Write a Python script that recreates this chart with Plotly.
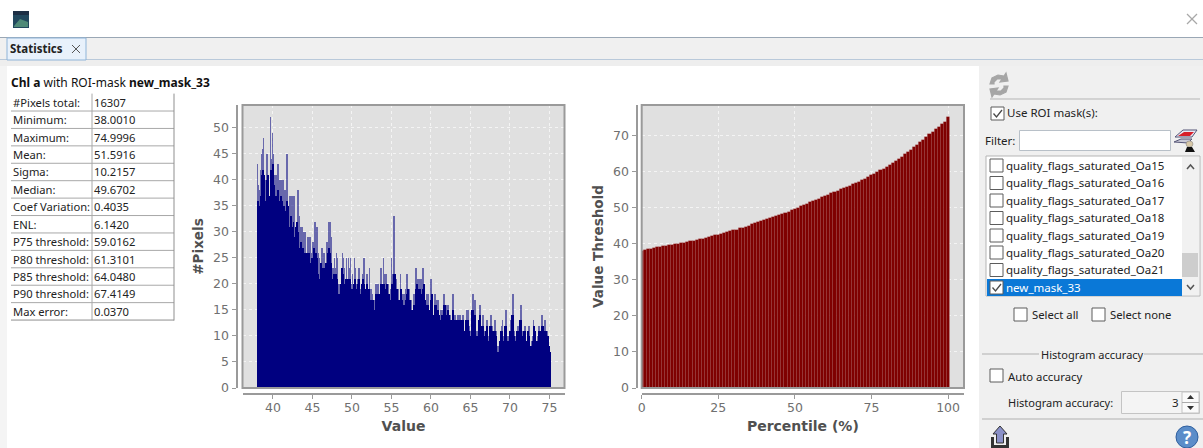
import plotly.graph_objects as go

W, H = 1203, 448

# ---------- data ----------
hist_peak = [
 43,39,38,42,45,46,48,40,40,45, 45,41,37,52,44,49,45,41,41,41,
 43,43,40,40,40,40,40,38,38,45, 45,35,37,37,37,37,37,37,31,31,
 38,38,33,31,31,31,30,30,30,26, 29,29,29,29,26,28,28,32,32,31,
 31,26,25,24,27,27,26,26,24,28, 28,32,32,32,29,23,23,25,23,26,
 25,20,20,19,22,26,25,23,19,25, 19,25,23,25,20,22,19,25,23,20,
 21,23,23,19,20,22,25,25,18,22, 22,19,23,19,19,18,20,17,17,20,
 20,20,20,18,23,23,19,25,22,22, 22,19,20,17,19,25,22,33,33,19,
 21,18,19,17,22,19,18,18,18,19, 22,22,19,19,17,17,15,18,18,23,
 23,21,21,21,21,21,23,23,19,14, 18,18,18,15,21,21,15,14,18,18,
 17,17,17,12,15,15,15,18,18,13, 16,16,16,14,14,12,18,18,14,14,
 13,14,14,14,14,13,14,14,11,12, 15,15,15,12,11,10,18,18,17,17,
 11,11,11,16,16,9,14,14,11,8, 13,13,10,9,14,14,12,9,13,13,
 11,8,8,8,10,12,13,10,10,15, 15,10,10,10,13,10,18,18,11,10,
 9,12,12,12,16,16,11,8,12,12, 9,10,12,12,8,9,9,10,13,12,
 10,8,10,12,12,9,14,14,10,13, 13,11,11,9,8]
hist_core = [
 36,35,34,37,41,42,41,36,36,40, 41,37,33,42,40,43,39,37,36,37,
 38,36,35,37,36,33,35,33,34,36, 35,31,31,33,32,31,32,29,28,31,
 32,30,26,27,28,27,27,26,26,23, 26,25,26,24,23,25,24,27,26,26,
 25,22,21,21,24,23,22,23,20,24, 24,26,27,26,24,21,20,22,21,22,
 21,18,18,18,20,23,22,20,18,21, 18,21,20,21,18,19,18,20,21,18,
 19,20,21,18,18,20,21,20,17,19, 20,17,19,17,16,17,17,15,15,18,
 18,18,18,16,20,20,17,20,19,19, 20,17,18,16,17,20,19,22,22,17,
 19,16,17,15,19,17,16,16,16,17, 18,19,17,17,15,15,13,16,16,19,
 20,18,19,19,18,17,19,20,17,12, 16,16,15,13,17,18,14,13,16,16,
 15,15,14,11,13,14,13,16,16,12, 14,15,14,13,13,11,15,15,12,13,
 12,13,13,12,13,12,13,13,10,11, 13,13,13,11,10,9,15,15,14,14,
 10,10,10,13,14,8,12,12,10,7, 11,12,9,8,12,12,11,8,11,11,
 10,7,7,7,9,11,11,9,9,12, 12,9,9,9,11,9,14,14,10,9,
 8,11,11,11,13,13,10,7,11,11, 8,9,11,10,7,8,8,9,12,11,
 9,7,9,11,11,8,12,12,9,11, 11,10,10,8,7]
hist_start, hist_end = 37.95, 75.05

pct_values = [
 38.0,38.2,38.4,38.6,38.8,39.0,39.1,39.3,39.4,39.6,39.7,
 39.9,40.0,40.2,40.3,40.5,40.6,40.8,41.0,41.2,41.4,
 41.6,41.8,42.0,42.3,42.5,42.7,42.9,43.2,43.4,43.7,
 43.9,44.2,44.4,44.7,45.0,45.3,45.6,45.9,46.2,46.5,
 46.8,47.0,47.3,47.6,47.9,48.2,48.5,48.8,49.3,49.7,
 50.0,50.4,50.7,51.0,51.4,51.7,52.1,52.4,52.8,53.2,
 53.5,53.9,54.2,54.6,55.0,55.3,55.7,56.0,56.4,56.8,
 57.2,57.6,58.0,58.5,59.0,59.4,59.9,60.3,60.8,61.3,
 61.8,62.4,62.9,63.5,64.05,64.7,65.3,66.0,66.7,67.4,
 68.1,68.8,69.6,70.3,71.0,71.7,72.4,73.1,73.8,75.0]

stat_names = ["#Pixels total:", "Minimum:", "Maximum:", "Mean:", "Sigma:", "Median:",
              "Coef Variation:", "ENL:", "P75 threshold:", "P80 threshold:",
              "P85 threshold:", "P90 threshold:", "Max error:"]
stat_values = ["16307", "38.0010", "74.9996", "51.5916", "10.2157", "49.6702", "0.4035",
               "6.1420", "59.0162", "61.3101", "64.0480", "67.4149", "0.0370"]
mask_rows = ["quality_flags_saturated_Oa15", "quality_flags_saturated_Oa16",
             "quality_flags_saturated_Oa17", "quality_flags_saturated_Oa18",
             "quality_flags_saturated_Oa19", "quality_flags_saturated_Oa20",
             "quality_flags_saturated_Oa21", "new_mask_33"]

# ---------- helpers (pixel → paper) ----------
UI = "Noto Sans"
def X(p): return p / W
def Y(p): return 1 - p / H
shapes, notes = [], []

def rect(x0, y0, x1, y1, fill=None, line=None, lw=1, layer="above"):
    shapes.append(dict(type="rect", xref="paper", yref="paper", x0=X(x0), x1=X(x1), y0=Y(y0), y1=Y(y1),
                       fillcolor=fill or "rgba(0,0,0,0)", layer=layer,
                       line=dict(color=line or "rgba(0,0,0,0)", width=lw if line else 0)))
def seg(x0, y0, x1, y1, color="#a0a0a0", lw=1):
    shapes.append(dict(type="line", xref="paper", yref="paper", x0=X(x0), x1=X(x1), y0=Y(y0), y1=Y(y1),
                       line=dict(color=color, width=lw)))
def poly(points, fill="rgba(0,0,0,0)", line=None, lw=1, close=True):
    d = "M" + " L".join(f"{X(a):.6f},{Y(b):.6f}" for a, b in points) + (" Z" if close else "")
    shapes.append(dict(type="path", xref="paper", yref="paper", path=d, fillcolor=fill,
                       line=dict(color=line or "rgba(0,0,0,0)", width=lw if line else 0)))
def text(x, y, s, size=11.3, color="#222222", anchor="left", font=UI):
    notes.append(dict(xref="paper", yref="paper", x=X(x), y=Y(y), text=s, showarrow=False,
                      xanchor=anchor, yanchor="middle", borderpad=0, borderwidth=0,
                      font=dict(family=font, size=size, color=color)))
def checkbox(x, y, checked=False, dark=False):
    rect(x, y, x + 13, y + 13, fill="#ffffff", line="#5c5c5c", lw=1)
    if checked:
        poly([(x + 2.5, y + 6.5), (x + 5.5, y + 10), (x + 11, y + 3)], line="#4a4a4a", lw=1.3, close=False)

# ---------- window chrome ----------
rect(0, 38, 1203, 60, fill="#f0f0f0", layer="below")
rect(0, 60, 1203, 66, fill="#eeeeee", layer="below")
rect(0, 66, 7, 448, fill="#f4f4f4", layer="below")
rect(979, 66, 1203, 448, fill="#f0f0f0", layer="below")
seg(0, 37.5, 1203, 37.5, "#9aa7b5", 1)
seg(0, 59.5, 1203, 59.5, "#b9c9da", 1)
rect(7, 38, 86, 60, fill="#e8f1fb", line="#8fb4d8", lw=1)
text(10, 48.5, "<b>Statistics</b>", 11.5, "#222222")
poly([(72, 45), (80, 53)], line="#555555", lw=1, close=False)
poly([(80, 45), (72, 53)], line="#555555", lw=1, close=False)
# app icon
rect(13, 11, 29, 28, fill="#22485e")
rect(13, 11, 29, 15, fill="#1d2f45")
poly([(14, 26), (20, 19), (28, 22), (28, 27), (14, 27)], fill="#4f8a78")
poly([(1187, 14), (1197, 24)], line="#a8a8a8", lw=1.2, close=False)
poly([(1197, 14), (1187, 24)], line="#a8a8a8", lw=1.2, close=False)

# ---------- stats table ----------
text(11, 82.5, "<b>Chl a</b> with ROI-mask <b>new_mask_33</b>", 12, "#111111")
row_h = 17.42
top = 93.6
for i, (n, v) in enumerate(zip(stat_names, stat_values)):
    cy = top + row_h * (i + 0.5)
    text(13, cy, n, 11.2, "#222222")
    text(94, cy, v, 11.2, "#222222")
    if i:
        seg(11, top + row_h * i, 174, top + row_h * i, "#a8a8a8", 1)
seg(92, top, 92, top + row_h * 13, "#a8a8a8", 1)
seg(174, top, 174, top + row_h * 13 + .5, "#8f8f8f", 1)
seg(11, top + row_h * 13, 174, top + row_h * 13, "#8f8f8f", 1)

# ---------- right-hand panel ----------
# refresh icon
poly([(990, 84), (992, 78), (998, 75), (1004, 76), (1006, 73), (1008, 81), (1000, 82), (1002, 79), (997, 79), (994, 82), (994, 84)], fill="#a6a6a6", line="#a6a6a6", lw=1.2)
poly([(1008, 86), (1006, 92), (1000, 95), (994, 94), (992, 97), (990, 89), (998, 88), (996, 91), (1001, 91), (1004, 88), (1004, 86)], fill="#a6a6a6", line="#a6a6a6", lw=1.2)
seg(990, 99, 1200, 99, "#b5b5b5", 1)
checkbox(991, 107, checked=True)
text(1007, 113, "Use ROI mask(s):", 11.5)
text(985, 140, "Filter:", 11.5)
rect(1019.5, 130.5, 1170.5, 150.5, fill="#ffffff", line="#b8c0c8", lw=1)
# filter icon
poly([(1175, 137), (1183, 130), (1197, 130), (1192, 137)], fill="#e8e8f4", line="#555577", lw=1)
poly([(1178, 136), (1184, 132), (1194, 132), (1190, 136)], fill="#d81e2a")
poly([(1174, 142), (1181, 139), (1192, 139), (1188, 143)], fill="#c9c9d6", line="#555577", lw=1)
shapes.append(dict(type="circle", xref="paper", yref="paper", x0=X(1186), x1=X(1193), y0=Y(147), y1=Y(141),
                   fillcolor="#d8c8a8", line=dict(color="#777777", width=.5)))
poly([(1185, 152), (1187, 147), (1192, 147), (1195, 152)], fill="#111111")
# list box
rect(986, 156, 1200, 296, fill="#ffffff", line="#b5b5b5", lw=1)
rect(1182, 157, 1199, 295, fill="#f1f1f1")
rect(1182, 253, 1198, 277, fill="#cdcdcd")
rect(987, 279, 1182, 296, fill="#0a78d7")
rows_y = [165.5, 183, 200.5, 218, 235.5, 252.5, 270, 287.5]
for i, (m, cy) in enumerate(zip(mask_rows, rows_y)):
    sel = i == len(mask_rows) - 1
    checkbox(990, cy - 6.5, checked=sel)
    text(1006, cy - .5, m, 11.5, "#ffffff" if sel else "#222222")
poly([(1187, 169), (1190.5, 165), (1194, 169)], line="#555555", lw=1.5, close=False)
poly([(1187, 285), (1190.5, 289), (1194, 285)], line="#555555", lw=1.5, close=False)
checkbox(1014, 308)
text(1032, 314, "Select all", 11.3)
checkbox(1092, 308)
text(1110, 314, "Select none", 11.3)
seg(982, 354, 1039, 354, "#b0b0b0", 1)
seg(1144, 354, 1203, 354, "#b0b0b0", 1)
text(1041, 354, "Histogram accuracy", 11)
checkbox(990, 369)
text(1008, 376, "Auto accuracy", 11.3)
text(1008, 402, "Histogram accuracy:", 11)
rect(1121.5, 391.5, 1199.5, 413.5, fill="#f4f4f4", line="#c4c4c4", lw=1)
rect(1182, 392, 1199, 413, fill="#fafafa", line="#c4c4c4", lw=1)
seg(1182, 402.5, 1199, 402.5, "#aaaaaa", 1)
text(1179, 402, "3", 11.5, anchor="right")
poly([(1187, 399), (1190.5, 395), (1194, 399)], fill="#333333")
poly([(1187, 406), (1190.5, 410), (1194, 406)], fill="#333333")
seg(982, 419, 1203, 419, "#b0b0b0", 1)
# export icon
poly([(991, 437), (994, 437), (994, 445), (1006, 445), (1006, 437), (1009, 437), (1009, 448), (991, 448)], fill="#333333")
poly([(1000, 426), (1007, 434), (1003.5, 434), (1003.5, 443), (996.5, 443), (996.5, 434), (993, 434)], fill="#8a90c8", line="#333333", lw=1)
# help icon
shapes.append(dict(type="circle", xref="paper", yref="paper", x0=X(1176), x1=X(1198), y0=Y(448), y1=Y(426),
                   fillcolor="#5b8dc9", line=dict(color="#2f5f9e", width=1)))
text(1187, 437, "<b>?</b>", 17, "#ffffff", anchor="center")

# ---------- plot frames ----------
plot_top, plot_bot = 105, 388
for a, b in ((242.5, 564.5), (641.7, 964)):
    rect(a, plot_top, b, plot_bot, line="#9a9a9a", lw=2)

# ---------- traces ----------
n = len(hist_peak)
bin_w = (hist_end - hist_start) / n
bin_x = [hist_start + bin_w * (i + .5) for i in range(n)]
fig = go.Figure()
fig.add_bar(x=bin_x, y=hist_peak, width=bin_w, marker=dict(color="rgba(30,30,140,0.62)", line=dict(width=0)),
            xaxis="x", yaxis="y", showlegend=False)
fig.add_bar(x=bin_x, y=hist_core, width=bin_w, marker=dict(color="#000080", line=dict(width=0)),
            xaxis="x", yaxis="y", showlegend=False)
fig.add_bar(x=list(range(len(pct_values))), y=pct_values, width=1,
            marker=dict(color="#7f0000", line=dict(color="rgba(165,80,80,0.3)", width=.6)),
            xaxis="x2", yaxis="y2", showlegend=False)

tick_font = dict(family="DejaVu Sans", size=12.5, color="#707070")
title_font = dict(family="DejaVu Sans", size=13.5, color="#505050")
def axis(**kw):
    base = dict(showline=True, linecolor="#9a9a9a", linewidth=2, ticks="outside", ticklen=4, tickwidth=1,
                tickcolor="#9a9a9a", tickfont=tick_font, showgrid=True, gridcolor="#f4f4f4", gridwidth=1,
                griddash="3px,3px", zeroline=False, anchor="free", fixedrange=True, automargin=False)
    base.update(kw)
    return base

xline = Y(393.5)
fig.update_layout(
    width=W, height=H, autosize=False,
    margin=dict(l=0, r=0, t=0, b=0, pad=0, autoexpand=False),
    paper_bgcolor="#ffffff", plot_bgcolor="#e0e0e0",
    barmode="overlay", bargap=0, showlegend=False,
    shapes=shapes, annotations=notes,
    xaxis=axis(domain=[X(242.5), X(564.5)], range=[36.15, 76.9], position=xline, dtick=5, tick0=40, ticklabelstandoff=-2,
               title=dict(text="<b>Value</b>", font=dict(title_font, size=14), standoff=7)),
    yaxis=axis(domain=[Y(388), Y(105)], range=[0, 54.4], position=X(236.5), dtick=5, tick0=0,
               title=dict(text="<b>#Pixels</b>", font=title_font, standoff=5)),
    xaxis2=axis(domain=[X(641.7), X(964)], range=[0, 105.2], position=xline, tickvals=[0, 25, 50, 75, 100], ticklabelstandoff=-2,
                title=dict(text="<b>Percentile (%)</b>", font=dict(title_font, size=14), standoff=7)),
    yaxis2=axis(domain=[Y(388), Y(105)], range=[0, 78.4], position=X(636.5), dtick=10, tick0=0,
                title=dict(text="<b>Value Threshold</b>", font=title_font, standoff=5)),
)
fig.write_html("out.html", config=dict(displayModeBar=False),
               post_script="document.body.style.margin='0';document.body.style.overflow='hidden';")
